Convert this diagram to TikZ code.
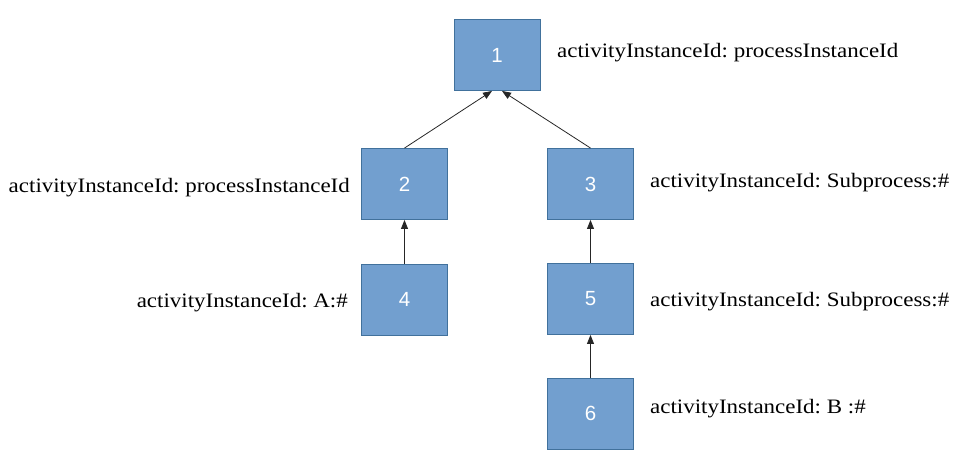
\documentclass[tikz,border=0pt]{standalone}
\usepackage{fontspec}
\setmainfont[FakeStretch=1.12]{Liberation Serif}
\newfontfamily\boxfont{Liberation Sans}
\usetikzlibrary{arrows.meta,positioning}
\frenchspacing

\definecolor{boxfill}{HTML}{729FCF}
\definecolor{boxline}{HTML}{41719C}

\begin{document}
\begin{tikzpicture}[
    x=1pt, y=-1pt,
    instance/.style={draw=boxline, line width=0.9pt, fill=boxfill,
      minimum width=86pt, minimum height=71pt, inner sep=0pt,
      text=white, font=\boxfont\fontsize{20.5}{24}\selectfont},
    idlabel/.style={inner sep=0pt, font=\fontsize{20.5}{24}\selectfont},
    parent/.style={-{Triangle[length=9pt,width=7pt]}, line width=0.8pt, black!85}
  ]
  \useasboundingbox (0,0) rectangle (967,468);
  % activity instance tree
  \node [instance] (n1) at (497,55) {1};
  \node [instance] (n2) at (404.5,184) {2};
  \node [instance] (n3) at (590.5,184) {3};
  \node [instance] (n4) at (404.5,299.5) {4};
  \node [instance] (n5) at (590.5,299) {5};
  \node [instance] (n6) at (590.5,413.5) {6};
  % ids
  \node [idlabel, anchor=base west] (l1) at (557,58) {activityInstanceId: processInstanceId};
  \node [idlabel, anchor=base east] (l2) at (350,193) {activityInstanceId: processInstanceId};
  \node [idlabel, anchor=base west] (l3) at (650,187) {activityInstanceId: Subprocess:\#};
  \node [idlabel, anchor=base east] (l4) at (348,307) {activityInstanceId: A:\#};
  \node [idlabel, anchor=base west] (l5) at (650,306) {activityInstanceId: Subprocess:\#};
  \node [idlabel, anchor=base west] (l6) at (650,413) {activityInstanceId: B :\#};
  % child to parent
  \draw [parent] (n2.north) -- ([xshift=-5pt]n1.south);
  \draw [parent] (n3.north) -- ([xshift=5pt]n1.south);
  \draw [parent] (n4.north) -- (n2.south);
  \draw [parent] (n5.north) -- (n3.south);
  \draw [parent] (n6.north) -- (n5.south);
\end{tikzpicture}
\end{document}
